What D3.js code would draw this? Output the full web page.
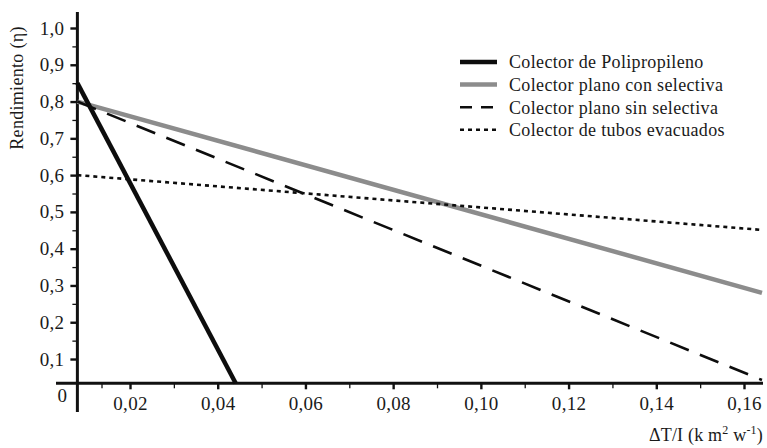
<!DOCTYPE html>
<html>
<head>
<meta charset="utf-8">
<script src="https://cdn.jsdelivr.net/npm/d3@7"></script>
<style>
  html, body { margin: 0; padding: 0; background: #fff; }
</style>
</head>
<body>
<svg id="chart" width="767" height="448"></svg>
<script>
// Efficiency curves of solar collectors: η versus ΔT/I
const seriesNames = [
  "Colector de Polipropileno",
  "Colector plano con selectiva",
  "Colector plano sin selectiva",
  "Colector de tubos evacuados"
];
// [ΔT/I, η] end points of each straight efficiency line
const poliPoints     = [[0.008, 0.85], [0.0441, 0.034]];
const conSelPoints   = [[0.008, 0.80], [0.1641, 0.28]];
const sinSelPoints   = [[0.008, 0.80], [0.1641, 0.043]];
const tubosPoints    = [[0.008, 0.60], [0.1641, 0.451]];

const xTicks = [0.02, 0.04, 0.06, 0.08, 0.10, 0.12, 0.14, 0.16];
const xMinorTicks = [0.0135, 0.03, 0.05, 0.07, 0.09, 0.11, 0.13, 0.15];
const yTicks = [0.1, 0.2, 0.3, 0.4, 0.5, 0.6, 0.7, 0.8, 0.9, 1.0];
const yMinorTicks = [0.15, 0.25, 0.35, 0.45, 0.55, 0.65, 0.75, 0.85, 0.95];

// where the two axes cross (data units)
const axisCrossX = 0.008;
const axisCrossY = 0.034;

const FONT = '"Liberation Serif", "Times New Roman", "DejaVu Serif", serif';
const INK = "#1a1a1a";

const svg = d3.select("#chart");

const x = d3.scaleLinear().domain([0, 0.16]).range([42.3, 744]);
const y = d3.scaleLinear().domain([0, 1]).range([395.8, 28]);

const comma = v => d3.format(".2f")(v).replace(".", ",");

const ax0 = x(axisCrossX);
const ay0 = y(axisCrossY);

function styleText(sel, size, spacing) {
  sel.style("font-family", FONT).style("font-size", size + "px").style("fill", INK)
     .style("letter-spacing", (spacing || 0) + "px");
}

// ---- axes ----
const gx = svg.append("g").attr("transform", `translate(0,${ay0})`)
  .call(d3.axisBottom(x).tickValues(xTicks).tickSize(6).tickPadding(7)
    .tickFormat(comma));
gx.select(".domain").remove();
gx.selectAll(".tick line").attr("stroke", "#111").attr("stroke-width", 2.4);
gx.selectAll(".tick text").attr("dy", "0.71em").call(styleText, 19, 0.3);

const gxm = svg.append("g").attr("transform", `translate(0,${ay0})`)
  .call(d3.axisBottom(x).tickValues(xMinorTicks).tickSize(5).tickFormat(""));
gxm.select(".domain").remove();
gxm.selectAll(".tick line").attr("stroke", "#111").attr("stroke-width", 1.3);

const gy = svg.append("g").attr("transform", `translate(${ax0},0)`)
  .call(d3.axisLeft(y).tickValues(yTicks).tickSize(7).tickPadding(6)
    .tickFormat(d => d3.format(".1f")(d).replace(".", ",")));
gy.select(".domain").remove();
gy.selectAll(".tick line").attr("stroke", "#111").attr("stroke-width", 2.4);
gy.selectAll(".tick text").call(styleText, 19, 0.3);

const gym = svg.append("g").attr("transform", `translate(${ax0},0)`)
  .call(d3.axisLeft(y).tickValues(yMinorTicks).tickSize(5).tickFormat(""));
gym.select(".domain").remove();
gym.selectAll(".tick line").attr("stroke", "#111").attr("stroke-width", 1.3);

// axis lines
svg.append("line")
  .attr("x1", ax0).attr("x2", ax0).attr("y1", 12).attr("y2", 412)
  .attr("stroke", "#111").attr("stroke-width", 3);
svg.append("line")
  .attr("x1", 56).attr("x2", 763).attr("y1", ay0).attr("y2", ay0)
  .attr("stroke", "#111").attr("stroke-width", 3);

// origin label
svg.append("text")
  .attr("x", x(0) + 20).attr("y", y(0)).attr("dy", "0.35em")
  .attr("text-anchor", "middle").text("0").call(styleText, 19);

// ---- efficiency lines ----
const line = d3.line().x(d => x(d[0])).y(d => y(d[1]));

const styles = [
  { data: poliPoints,   stroke: "#0d0d0d", width: 4.5, dash: null },
  { data: conSelPoints, stroke: "#8c8c8c", width: 4.5, dash: null },
  { data: sinSelPoints, stroke: "#0d0d0d", width: 2.6, dash: "20,12" },
  { data: tubosPoints,  stroke: "#0d0d0d", width: 2.6, dash: "4,4" }
];

// draw in back-to-front order: gray, dotted, dashed, black
[1, 3, 2, 0].forEach(i => {
  const s = styles[i];
  svg.append("path")
    .datum(s.data)
    .attr("d", line)
    .attr("fill", "none")
    .attr("stroke", s.stroke)
    .attr("stroke-width", s.width)
    .attr("stroke-dasharray", s.dash);
});

// ---- legend ----
const legendDash = [null, null, "12,9", "4,4"];
const legend = svg.append("g").attr("transform", "translate(460,62)");
seriesNames.forEach((name, i) => {
  const g = legend.append("g").attr("transform", `translate(0,${i * 22.6})`);
  g.append("line")
    .attr("x1", 0).attr("x2", 37).attr("y1", 0).attr("y2", 0)
    .attr("stroke", styles[i].stroke)
    .attr("stroke-width", styles[i].width)
    .attr("stroke-dasharray", legendDash[i]);
  g.append("text")
    .attr("x", 49).attr("y", 0).attr("dy", "0.35em")
    .text(name).call(styleText, 18, 0.35);
});

// ---- axis titles ----
svg.append("text")
  .attr("transform", "translate(17,88) rotate(-90)")
  .attr("text-anchor", "middle").attr("dy", "0.35em")
  .text("Rendimiento (η)").call(styleText, 18, 0.3);

const xt = svg.append("text")
  .attr("x", 763).attr("y", 441).attr("text-anchor", "end")
  .call(styleText, 18, 0.2);
xt.append("tspan").text("ΔT/I (k m");
xt.append("tspan").attr("dy", -7).style("font-size", "12px").text("2");
xt.append("tspan").attr("dy", 7).text(" w");
xt.append("tspan").attr("dy", -7).style("font-size", "12px").text("-1");
xt.append("tspan").attr("dy", 7).text(")");
</script>
</body>
</html>
